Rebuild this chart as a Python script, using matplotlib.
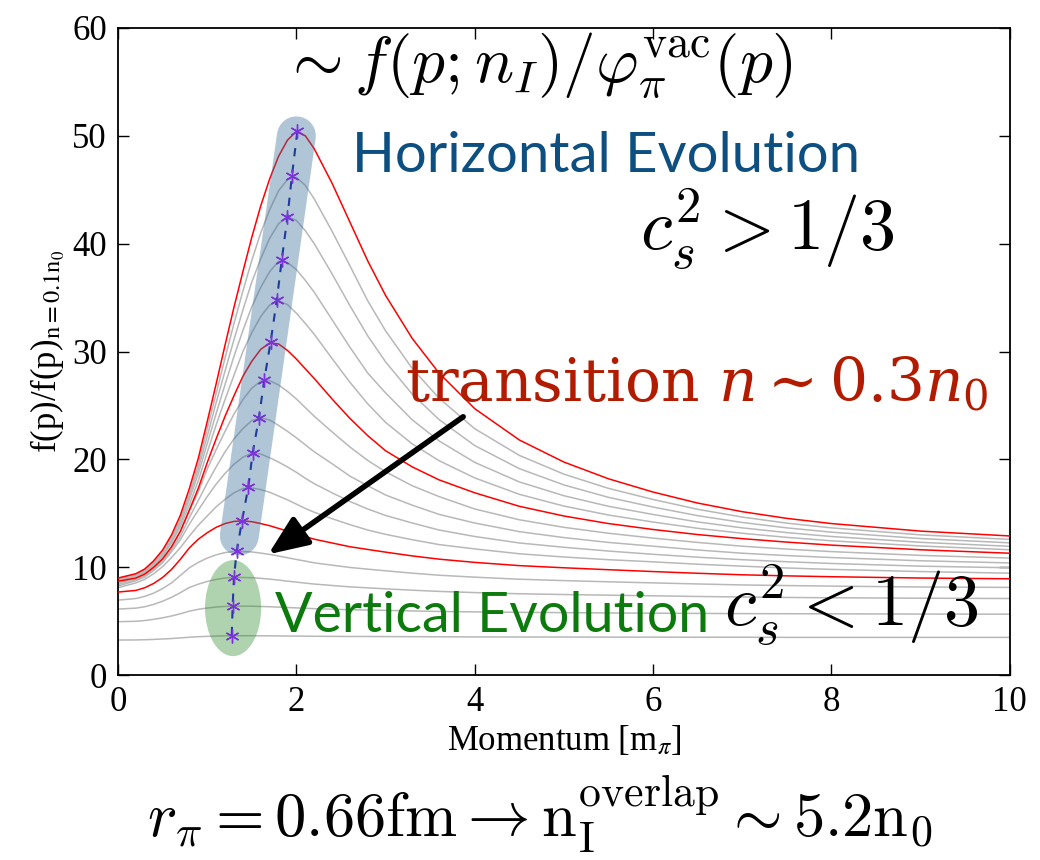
import matplotlib.pyplot as plt
from matplotlib.patches import Ellipse

plt.rcParams['font.family'] = 'serif'
plt.rcParams['font.serif'] = ['Liberation Serif', 'DejaVu Serif']
plt.rcParams['mathtext.fontset'] = 'cm'

# momentum grid [m_pi]
p = [0, 0.2, 0.3, 0.4, 0.5, 0.6, 0.7, 0.8, 0.9,
     1.0, 1.1, 1.2, 1.3, 1.4, 1.5, 1.6, 1.7, 1.8, 1.9, 2.0, 2.1, 2.2,
     2.4, 2.6, 2.8, 3.0, 3.3, 3.6, 4.0, 4.5, 5.0,
     5.5, 6.0, 6.5, 7.0, 7.5, 8.0, 9.0, 10.0]

# f(p)/f(p)_{n=0.1n0}, from the highest density down to the lowest
ratio_01 = [9.0, 9.4, 9.84, 10.6, 11.6, 13.0, 14.85, 17.3, 20.1,
            23.5, 27.0, 30.6, 34.1, 37.4, 40.6, 43.5, 46.0, 48.1, 49.6, 50.4, 50.0, 48.8,
            45.6, 42.0, 38.4, 35.2, 31.2, 28.0, 24.7, 21.8, 19.75,
            18.2, 16.97, 15.95, 15.15, 14.53, 14.05, 13.35, 12.9]
ratio_02 = [8.95, 9.35, 9.78, 10.5, 11.42, 12.75, 14.49, 16.8, 19.52,
            22.85, 26.1, 29.4, 32.6, 35.6, 38.45, 41.0, 43.15, 44.9, 45.95, 46.15, 45.4, 44.15,
            41.15, 37.95, 34.7, 31.92, 28.42, 25.67, 22.84, 20.37, 18.63,
            17.31, 16.28, 15.37, 14.65, 14.09, 13.65, 13.0, 12.58]
ratio_03 = [8.9, 9.25, 9.68, 10.4, 11.26, 12.5, 14.26, 16.6, 19.15,
            22.15, 25.25, 28.2, 31.1, 33.85, 36.45, 38.6, 40.5, 41.85, 42.5, 42.15, 41.2, 40.0,
            37.2, 34.25, 31.45, 29.04, 26.04, 23.69, 21.28, 19.14, 17.63,
            16.48, 15.58, 14.78, 14.15, 13.65, 13.25, 12.66, 12.26]
ratio_04 = [8.85, 9.2, 9.59, 10.25, 11.11, 12.35, 14.05, 16.3, 18.67,
            21.45, 24.25, 26.95, 29.55, 31.95, 34.15, 35.95, 37.4, 38.35, 38.25, 37.6, 36.6, 35.5,
            32.95, 30.4, 28.0, 26.16, 23.66, 21.71, 19.72, 17.91, 16.63,
            15.65, 14.89, 14.2, 13.65, 13.21, 12.85, 12.31, 11.94]
ratio_05 = [8.8, 9.15, 9.52, 10.15, 11.01, 12.25, 13.78, 15.8, 18.03,
            20.65, 23.2, 25.55, 27.8, 30.0, 31.75, 33.25, 34.3, 34.7, 34.35, 33.55, 32.6, 31.6,
            29.35, 27.15, 25.15, 23.43, 21.43, 19.88, 18.28, 16.76, 15.67,
            14.84, 14.19, 13.61, 13.15, 12.77, 12.45, 11.97, 11.62]
ratio_06 = [8.7, 9.0, 9.37, 10.0, 10.78, 11.9, 13.36, 15.3, 17.32,
            19.7, 21.9, 24.0, 25.9, 27.7, 29.1, 30.2, 30.8, 30.7, 30.1, 29.3, 28.4, 27.5,
            25.6, 23.8, 22.2, 20.8, 19.3, 18.1, 16.9, 15.65, 14.75,
            14.05, 13.5, 13.03, 12.65, 12.33, 12.05, 11.62, 11.3]
ratio_07 = [8.55, 8.95, 9.32, 9.95, 10.73, 11.85, 13.29, 15.2, 17.0,
            19.1, 20.9, 22.6, 24.2, 25.55, 26.6, 27.25, 27.3, 26.9, 26.3, 25.6, 24.8, 24.0,
            22.55, 21.15, 19.9, 18.85, 17.55, 16.55, 15.4, 14.4, 13.7,
            13.15, 12.7, 12.3, 11.95, 11.68, 11.45, 11.1, 10.85]
ratio_08 = [8.4, 8.85, 9.2, 9.8, 10.54, 11.6, 12.89, 14.6, 16.2,
            17.8, 19.3, 20.7, 21.9, 22.85, 23.6, 23.85, 23.65, 23.15, 22.6, 22.0, 21.35, 20.7,
            19.6, 18.45, 17.55, 16.7, 15.75, 14.9, 14.1, 13.3, 12.75,
            12.3, 11.95, 11.6, 11.3, 11.08, 10.9, 10.6, 10.4]
ratio_09 = [8.25, 8.75, 9.1, 9.7, 10.42, 11.45, 12.57, 14.0, 15.3,
            16.55, 17.7, 18.7, 19.55, 20.2, 20.6, 20.5, 20.15, 19.75, 19.3, 18.8, 18.25, 17.75,
            16.9, 16.1, 15.4, 14.8, 14.1, 13.45, 12.85, 12.25, 11.85,
            11.5, 11.2, 10.93, 10.7, 10.51, 10.35, 10.1, 9.95]
ratio_10 = [8.1, 8.55, 8.88, 9.4, 10.06, 10.9, 11.83, 12.9, 13.9,
            14.75, 15.6, 16.3, 16.9, 17.3, 17.35, 17.2, 16.95, 16.6, 16.25, 15.85, 15.45, 15.1,
            14.5, 13.95, 13.45, 13.05, 12.55, 12.1, 11.7, 11.25, 10.95,
            10.7, 10.5, 10.28, 10.1, 9.93, 9.8, 9.6, 9.45]
ratio_11 = [7.7, 7.85, 8.1, 8.5, 9.05, 9.8, 10.75, 11.8, 12.6,
            13.2, 13.7, 14.05, 14.25, 14.3, 14.22, 14.05, 13.85, 13.6, 13.35, 13.1, 12.85, 12.6,
            12.25, 11.9, 11.65, 11.4, 11.05, 10.75, 10.45, 10.15, 9.95,
            9.77, 9.6, 9.44, 9.3, 9.2, 9.12, 9.0, 8.93]
ratio_12 = [6.95, 7.1, 7.3, 7.6, 8.02, 8.55, 9.25, 9.95, 10.45,
            10.85, 11.15, 11.36, 11.46, 11.45, 11.42, 11.31, 11.19, 11.04, 10.88, 10.72, 10.57, 10.41,
            10.19, 9.98, 9.82, 9.67, 9.45, 9.26, 9.08, 8.89, 8.76,
            8.65, 8.55, 8.45, 8.36, 8.3, 8.25, 8.17, 8.13]
ratio_13 = [6.12, 6.21, 6.34, 6.56, 6.85, 7.21, 7.65, 8.12, 8.43,
            8.68, 8.87, 9.0, 9.06, 9.05, 9.03, 8.97, 8.9, 8.81, 8.71, 8.62, 8.53, 8.44,
            8.31, 8.18, 8.09, 8.0, 7.87, 7.76, 7.65, 7.54, 7.47,
            7.41, 7.35, 7.29, 7.24, 7.2, 7.17, 7.13, 7.1]
ratio_14 = [4.95, 4.99, 5.06, 5.17, 5.31, 5.48, 5.69, 5.93, 6.1,
            6.22, 6.31, 6.37, 6.4, 6.39, 6.39, 6.36, 6.34, 6.3, 6.27, 6.23, 6.2, 6.16,
            6.11, 6.06, 6.03, 6.0, 5.95, 5.9, 5.86, 5.82, 5.79,
            5.76, 5.74, 5.72, 5.7, 5.69, 5.68, 5.66, 5.65]
ratio_15 = [3.25, 3.26, 3.28, 3.31, 3.35, 3.39, 3.45, 3.51, 3.56,
            3.59, 3.62, 3.64, 3.65, 3.65, 3.65, 3.64, 3.64, 3.63, 3.62, 3.62, 3.61, 3.6,
            3.59, 3.58, 3.58, 3.57, 3.56, 3.55, 3.54, 3.53, 3.53,
            3.52, 3.52, 3.51, 3.51, 3.5, 3.5, 3.5, 3.5]

curves = [ratio_01, ratio_02, ratio_03, ratio_04, ratio_05, ratio_06, ratio_07, ratio_08,
          ratio_09, ratio_10, ratio_11, ratio_12, ratio_13, ratio_14, ratio_15]
highlighted = [0, 5, 10]

# position and height of each maximum
peak_p = [2.01, 1.95, 1.90, 1.835, 1.78, 1.71, 1.64, 1.58, 1.51, 1.46, 1.39, 1.33, 1.30, 1.285, 1.275]
peak_v = [50.4, 46.3, 42.5, 38.45, 34.75, 30.85, 27.4, 23.86, 20.6, 17.4, 14.3, 11.47, 9.06, 6.4, 3.65]

fig = plt.figure(figsize=(10.4, 8.6), dpi=100)
ax = fig.add_axes([0.1135, 0.215, 0.8575, 0.7525])

for i, curve in enumerate(curves):
    if i in highlighted:
        ax.plot(p, curve, color='red', lw=1.1, zorder=3)
    else:
        ax.plot(p, curve, color='#b8b8b8', lw=1.1, zorder=2)

# horizontal branch band and vertical branch ellipse
ax.plot([2.0, 1.36], [50.0, 12.9], color='#3a6e9a', alpha=0.4, lw=28,
        solid_capstyle='round', zorder=4)
ax.add_patch(Ellipse((1.29, 6.21), 0.63, 8.9, color='#2e8b2e', alpha=0.38, lw=0, zorder=4))

ax.plot(peak_p, peak_v, color='#1f3c9c', lw=1.5, dashes=(4, 4), zorder=5)
ax.plot(peak_p, peak_v, ls='none', marker=(6, 2, 0), ms=10, mec='#7a33d9', mew=1.0, zorder=6)

ax.annotate('', xy=(1.685, 11.2), xytext=(3.87, 23.95),
            arrowprops=dict(arrowstyle='-|>,head_length=0.6,head_width=0.25', color='black',
                            lw=4, mutation_scale=40, shrinkA=0, shrinkB=0), zorder=7)

ax.text(4.7, 56.6, r'$\sim f(p;n_I)/\varphi_\pi^{\rm vac}(p)$', fontsize=47,
        ha='center', va='center')
ax.text(2.62, 46.6, 'Horizontal Evolution', family=['Lato', 'DejaVu Sans'], fontsize=40.5,
        color='#0d4f80', ha='left', va='baseline')
ax.text(5.85, 41.3, r'$c_s^2>1/3$', fontsize=52, ha='left', va='center')
ax.text(3.22, 25.3, r'transition $n\sim 0.3n_0$', family='DejaVu Serif',
        math_fontfamily='dejavuserif', fontsize=43, color='#b31b00', ha='left', va='baseline')
ax.text(1.76, 4.0, 'Vertical Evolution', family=['Lato', 'DejaVu Sans'], fontsize=40,
        color='#0d7a0d', ha='left', va='baseline')
ax.text(6.8, 6.5, r'$c_s^2<1/3$', fontsize=52, ha='left', va='center')

fig.text(0.519, 0.027, r'$r_\pi=0.66{\rm fm}\rightarrow {\rm n_I^{overlap}}\sim 5.2{\rm n_0}$',
         fontsize=45, ha='center', va='baseline')

ax.set_xlim(0, 10)
ax.set_ylim(0, 60)
ax.set_xticks([0, 2, 4, 6, 8, 10])
ax.set_yticks([0, 10, 20, 30, 40, 50, 60])
ax.tick_params(direction='in', top=True, right=True, length=8, width=1, labelsize=25, pad=8)
for spine in ax.spines.values():
    spine.set_linewidth(1.3)

ax.set_xlabel(r'Momentum [m$_\pi$]', fontsize=25, math_fontfamily='stix', labelpad=4)
ax.set_ylabel(r'f(p)/f(p)$_{\rm n=0.1n_0}$', fontsize=25, math_fontfamily='stix', labelpad=4)

fig.savefig('out.png', dpi=100)
